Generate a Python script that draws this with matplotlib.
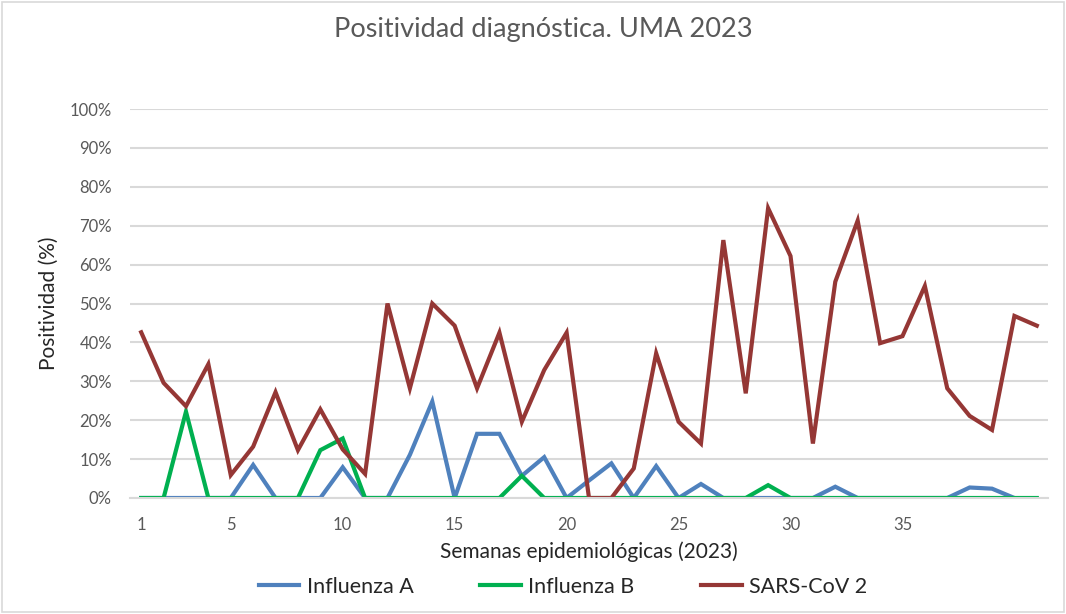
import matplotlib
matplotlib.use("Agg")
import matplotlib.pyplot as plt
from matplotlib.patches import Rectangle
from matplotlib.ticker import PercentFormatter

# weekly positivity (%)
weeks = list(range(1, 42))
influenza_a = [0, 0, 0, 0, 0, 8.5, 0, 0, 0, 7.9,
               0, 0, 11.1, 24.8, 0, 16.5, 16.5, 5.7, 10.5, 0,
               4.5, 8.9, 0, 8.2, 0, 3.6, 0, 0, 0, 0,
               0, 2.9, 0, 0, 0, 0, 0, 2.7, 2.4, 0]
influenza_b = [0, 0, 22.2, 0, 0, 0, 0, 0, 12.3, 15.3,
               0, 0, 0, 0, 0, 0, 0, 5.7, 0, 0,
               0, 0, 0, 0, 0, 0, 0, 0, 3.3, 0,
               0, 0, 0, 0, 0, 0, 0, 0, 0, 0, 0]
sars_cov2 = [42.6, 29.6, 23.6, 34.4, 5.9, 13.2, 27.2, 12.3, 22.8, 12.5,
             6.2, 50.0, 28.2, 50.0, 44.3, 28.2, 42.5, 19.6, 32.9, 42.5,
             0, 0, 7.6, 37.2, 19.6, 14.0, 66.3, 26.9, 74.5, 62.2,
             14.0, 55.6, 71.3, 39.8, 41.6, 54.5, 28.2, 21.1, 17.5, 46.8,
             44.3]
tick_weeks = [1, 5, 10, 15, 20, 25, 30, 35]

plt.rcParams['font.family'] = ['Lato', 'DejaVu Sans']

fig = plt.figure(figsize=(10.66, 6.14), dpi=100)
ax = fig.add_axes([130 / 1066, 1 - 498 / 614, 918 / 1066, 389 / 614])

ax.plot(weeks[:len(influenza_a)], influenza_a, color='#4F81BD', lw=3,
        label='Influenza A', solid_joinstyle='miter')
ax.plot(weeks, influenza_b, color='#00B050', lw=3, label='Influenza B',
        solid_joinstyle='miter')
ax.plot(weeks, sars_cov2, color='#953735', lw=3, label='SARS-CoV 2',
        solid_joinstyle='miter')

ax.set_xlim(0.5, 41.5)
ax.set_ylim(0, 100)
ax.set_yticks(range(0, 101, 10))
ax.yaxis.set_major_formatter(PercentFormatter(decimals=0))
ax.set_xticks(tick_weeks)
ax.grid(axis='y', color='#d9d9d9', lw=1.5)
ax.set_axisbelow(True)
for side in ('left', 'right', 'top'):
    ax.spines[side].set_visible(False)
ax.spines['bottom'].set_color('#d9d9d9')
ax.spines['bottom'].set_linewidth(1.5)
ax.tick_params(length=0, labelsize=12, labelcolor='#595959')
ax.tick_params(axis='x', pad=14)
ax.tick_params(axis='y', pad=13)

ax.set_ylabel('Positividad (%)', fontsize=15, color='#262626', labelpad=8)
ax.set_xlabel('Semanas epidemiológicas (2023)', fontsize=15,
              color='#262626', labelpad=6)

fig.text(0.51, 1 - 30 / 614, 'Positividad diagnóstica. UMA 2023',
         ha='center', va='center', fontsize=19.5, color='#595959')

fig.legend(loc='center', bbox_to_anchor=(0.528, 1 - 587 / 614), ncol=3,
           frameon=False, fontsize=15.5, handlelength=1.9,
           handletextpad=0.33, columnspacing=3.1, labelcolor='#262626')

fig.patches.append(Rectangle((0.002, 0.003), 0.996, 0.994,
                             transform=fig.transFigure, fill=False,
                             edgecolor='#d9d9d9', lw=1.2))

fig.savefig('out.png', dpi=100)
